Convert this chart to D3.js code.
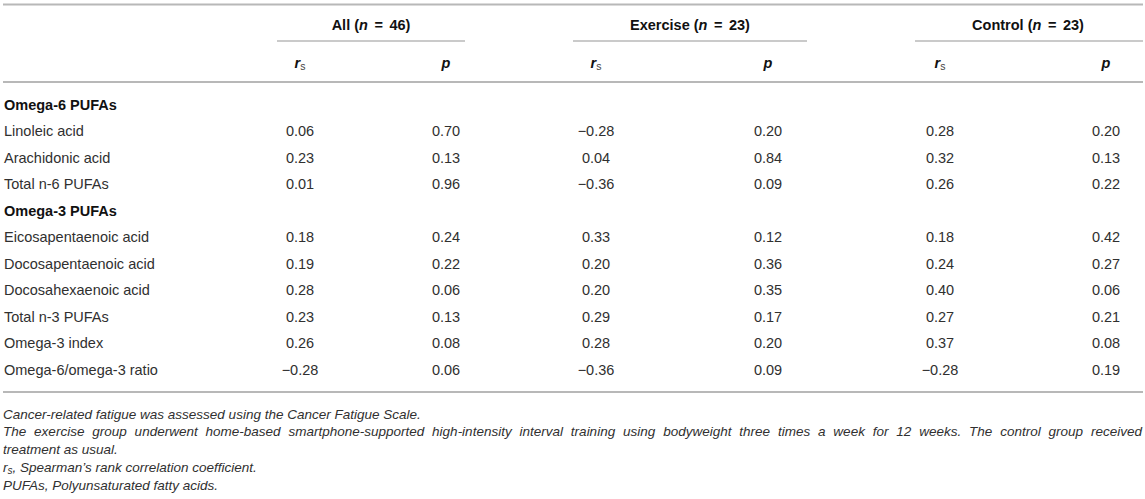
<!DOCTYPE html>
<html><head><meta charset="utf-8">
<script src="https://cdn.jsdelivr.net/npm/d3@7/dist/d3.min.js"></script>
<style>
html,body{margin:0;padding:0;background:#fff;}
svg{display:block;font-family:"Liberation Sans",Arial,Helvetica,sans-serif;}
</style></head>
<body>
<svg id="chart" width="1145" height="499"></svg>
<script>
// ---- data ----
const groups = ["All", "Exercise", "Control"];
const groupN = [46, 23, 23];
const rowLabels = ["Omega-6 PUFAs", "Linoleic acid", "Arachidonic acid", "Total n-6 PUFAs",
  "Omega-3 PUFAs", "Eicosapentaenoic acid", "Docosapentaenoic acid", "Docosahexaenoic acid",
  "Total n-3 PUFAs", "Omega-3 index", "Omega-6/omega-3 ratio"];
const sectionRows = ["Omega-6 PUFAs", "Omega-3 PUFAs"];
const allRs = [null, 0.06, 0.23, 0.01, null, 0.18, 0.19, 0.28, 0.23, 0.26, -0.28];
const allP  = [null, 0.70, 0.13, 0.96, null, 0.24, 0.22, 0.06, 0.13, 0.08, 0.06];
const exRs  = [null, -0.28, 0.04, -0.36, null, 0.33, 0.20, 0.20, 0.29, 0.28, -0.36];
const exP   = [null, 0.20, 0.84, 0.09, null, 0.12, 0.36, 0.35, 0.17, 0.20, 0.09];
const ctlRs = [null, 0.28, 0.32, 0.26, null, 0.18, 0.24, 0.40, 0.27, 0.37, -0.28];
const ctlP  = [null, 0.20, 0.13, 0.22, null, 0.42, 0.27, 0.06, 0.21, 0.08, 0.19];
const footnotes = [
  "Cancer-related fatigue was assessed using the Cancer Fatigue Scale.",
  "The exercise group underwent home-based smartphone-supported high-intensity interval training using bodyweight three times a week for 12 weeks. The control group received",
  "treatment as usual.",
  "RS, Spearman’s rank correlation coefficient.",
  "PUFAs, Polyunsaturated fatty acids."
];

const colKeys = ["allRs", "allP", "exRs", "exP", "ctlRs", "ctlP"];
const colData = [allRs, allP, exRs, exP, ctlRs, ctlP];

// ---- layout ----
const svg = d3.select("#chart");
const x = d3.scaleOrdinal().domain(colKeys).range([300, 446, 596, 768, 940, 1106]);
const groupX = d3.scaleOrdinal().domain(groups).range([371, 690, 1028]);
const groupSpan = d3.scaleOrdinal().domain(groups).range([[277, 465], [573, 807], [915, 1143]]);
const y = d3.scalePoint().domain(rowLabels).range([104.5, 369.5]);

const FS = 14.5;
const lineColor = "#b8b8b8";
const textColor = "#303030";
const fmt = v => (v < 0 ? "\u2212" : "") + d3.format(".2f")(Math.abs(v));

function hline(x1, x2, yy, w) {
  svg.append("line").attr("x1", x1).attr("x2", x2).attr("y1", yy).attr("y2", yy)
    .attr("stroke", lineColor).attr("stroke-width", w);
}
hline(3, 1143, 4.5, 2);
hline(3, 1143, 82, 2);
hline(3, 1143, 392, 2);
groups.forEach(g => { const s = groupSpan(g); hline(s[0], s[1], 41, 1.6); });

// group headers
groups.forEach((g, i) => {
  const t = svg.append("text").attr("x", groupX(g)).attr("y", 25).attr("text-anchor", "middle")
    .attr("dominant-baseline", "central").attr("font-size", FS).attr("font-weight", "bold").attr("fill", "#111");
  t.append("tspan").text(g + " (");
  t.append("tspan").attr("font-style", "italic").text("n");
  t.append("tspan").attr("dx", 2.5).text(" = ");
  t.append("tspan").attr("dx", 2.5).text(groupN[i] + ")");
});

// sub headers
colKeys.forEach((k, i) => {
  const t = svg.append("text").attr("x", x(k)).attr("y", 63).attr("text-anchor", "middle")
    .attr("dominant-baseline", "central").attr("font-size", FS).attr("fill", "#111");
  if (i % 2 === 0) {
    t.append("tspan").attr("font-weight", "bold").attr("font-style", "italic").text("r");
    t.append("tspan").attr("font-size", 10.5).attr("dy", 3).attr("fill", "#444").text("s");
  } else {
    t.append("tspan").attr("font-weight", "bold").attr("font-style", "italic").text("p");
  }
});

// row labels
svg.selectAll("text.rowlabel").data(rowLabels).join("text").attr("class", "rowlabel")
  .attr("x", 4).attr("y", d => y(d)).attr("dominant-baseline", "central")
  .attr("font-size", FS)
  .attr("font-weight", d => sectionRows.includes(d) ? "bold" : "normal")
  .attr("fill", d => sectionRows.includes(d) ? "#111" : textColor)
  .text(d => d);

// values
colKeys.forEach((k, ci) => {
  const vals = colData[ci].map((v, ri) => ({v, r: rowLabels[ri]})).filter(d => d.v !== null);
  svg.selectAll("text.v" + k).data(vals).join("text").attr("class", "v" + k)
    .attr("x", x(k)).attr("y", d => y(d.r)).attr("text-anchor", "middle")
    .attr("dominant-baseline", "central").attr("font-size", FS).attr("fill", textColor)
    .text(d => fmt(d.v));
});

// footnotes
const fy = d3.scalePoint().domain(d3.range(footnotes.length)).range([414, 485]);
footnotes.forEach((f, i) => {
  const t = svg.append("text").attr("x", 3).attr("y", fy(i)).attr("dominant-baseline", "central")
    .attr("font-size", 13.5).attr("font-style", "italic").attr("fill", textColor);
  if (f.startsWith("RS,")) {
    t.append("tspan").text("r");
    t.append("tspan").attr("font-size", 10).attr("dy", 3).text("s");
    t.append("tspan").attr("dy", -3).text(f.slice(2));
  } else {
    t.text(f);
  }
  if (i === 1) {
    const natural = t.node().getComputedTextLength();
    const spaces = (f.match(/ /g) || []).length;
    const target = 1142 - 3;
    const ws = (target - natural) / spaces;
    if (ws >= 0) t.attr("word-spacing", ws);
    else t.attr("textLength", target).attr("lengthAdjust", "spacingAndGlyphs");
  }
});
</script>
</body></html>
